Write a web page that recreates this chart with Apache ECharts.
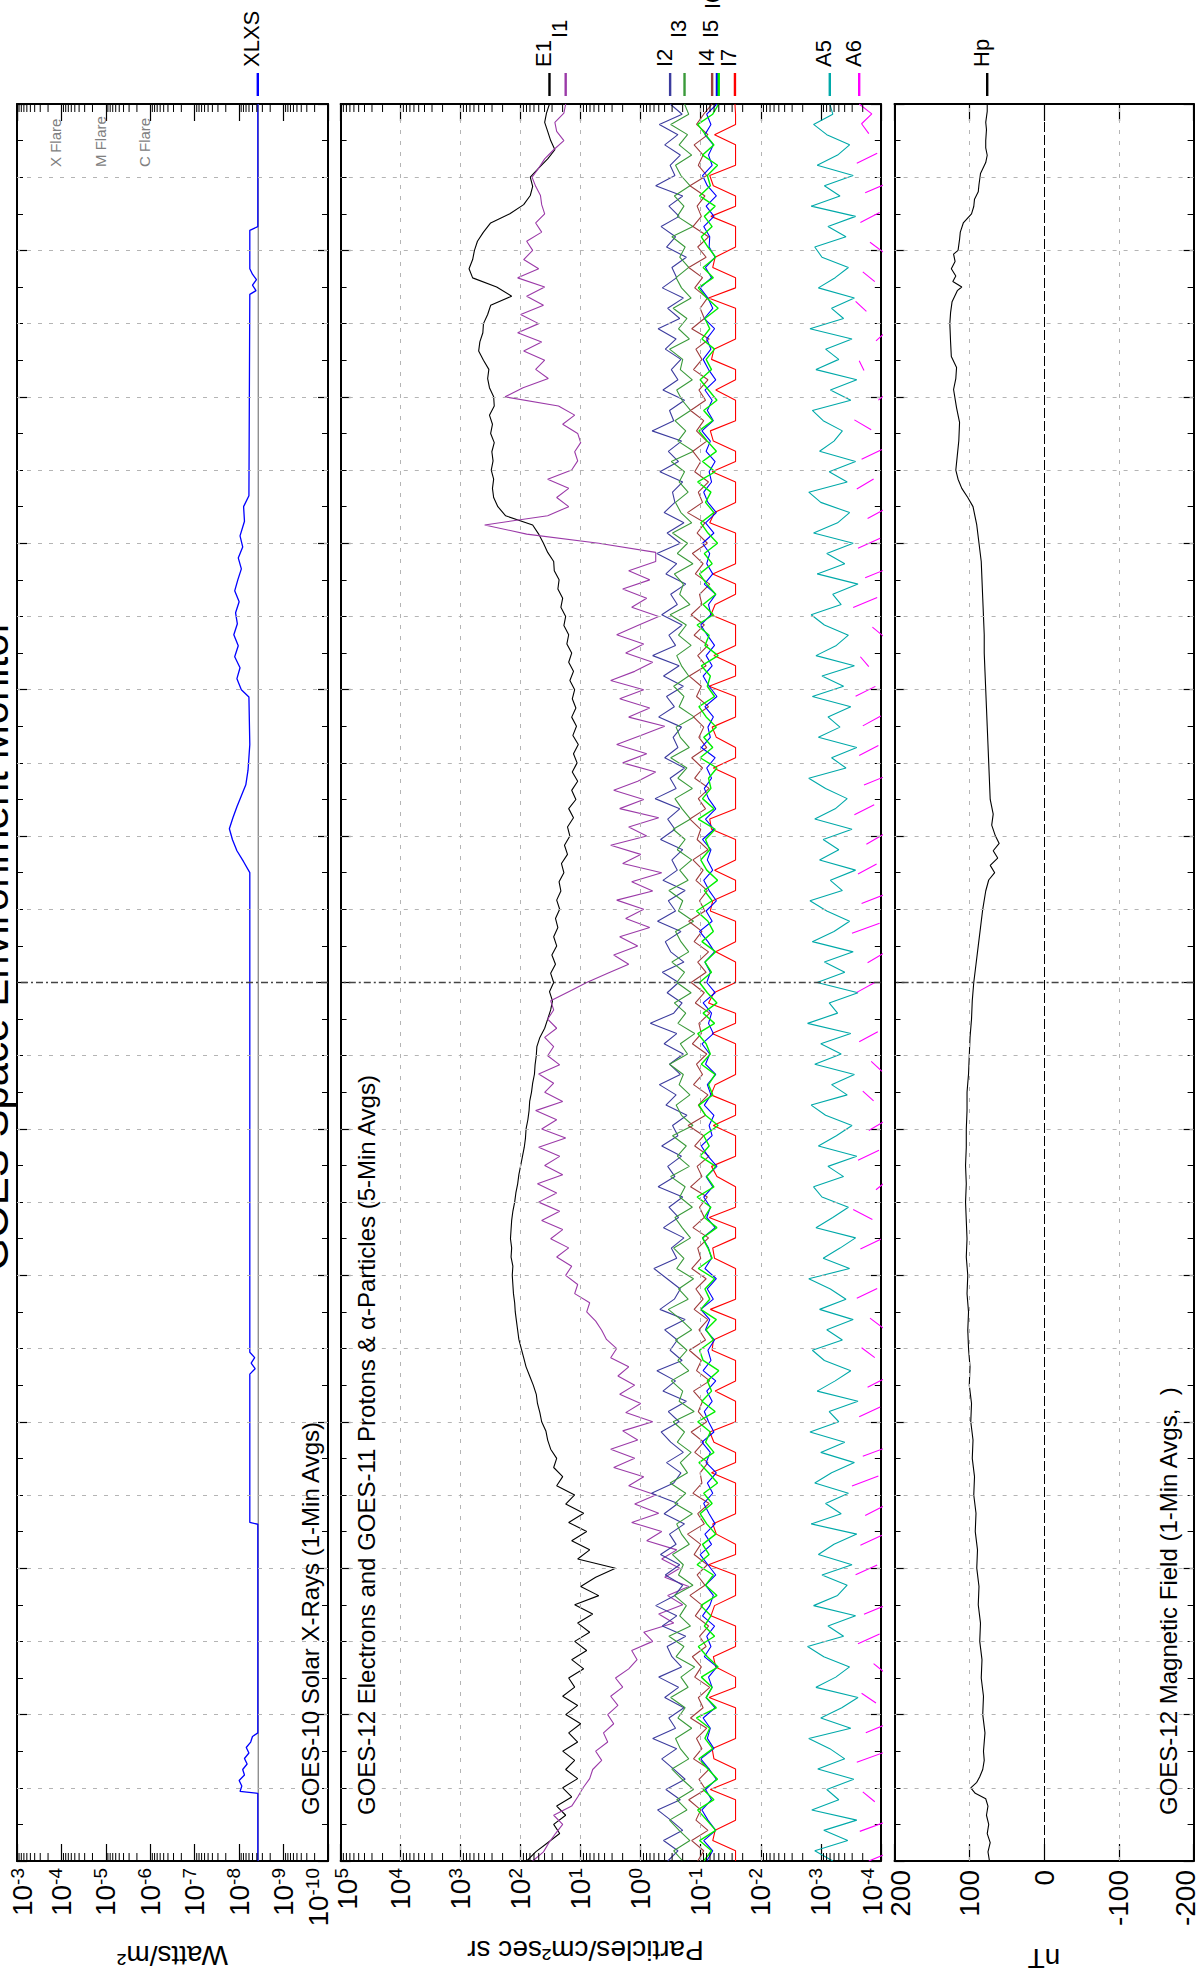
<!DOCTYPE html>
<html><head><meta charset="utf-8">
<script src="https://cdn.jsdelivr.net/npm/echarts@6/dist/echarts.min.js"></script>
<style>html,body{margin:0;padding:0;background:#fff}#c{width:1204px;height:1976px}</style>
</head><body><div id="c"></div>
<script>
// ---------------- DATA ----------------
const T_END = 48; // hours shown (two days)
const xrayTickExp = [-3,-4,-5,-6,-7,-8,-9,-10];
const partTickExp = [5,4,3,2,1,0,-1,-2,-3,-4];
const hpTicks = [200,100,0,-100,-200];
const flareLevels = [{exp:-4,name:'X Flare'},{exp:-5,name:'M Flare'},{exp:-6,name:'C Flare'}];

// GOES-10 X-rays: [hour, log10(W/m2)]
const xlPoints = [[0,-8.42],[1.85,-8.42],[1.9,-8.02],[2.05,-8.06],[2.2,-8.0],[2.35,-8.12],[2.5,-8.08],[2.65,-8.18],[2.8,-8.12],[2.95,-8.22],[3.1,-8.16],[3.25,-8.26],[3.4,-8.3],[3.5,-8.42],[9.2,-8.42],[9.25,-8.24],[13.3,-8.24],[13.45,-8.36],[13.6,-8.27],[13.75,-8.35],[13.9,-8.24],[27.0,-8.24],[27.3,-8.1],[27.6,-7.95],[27.9,-7.85],[28.2,-7.78],[28.5,-7.86],[28.8,-7.95],[29.1,-8.05],[29.4,-8.15],[29.8,-8.2],[30.5,-8.24],[31.8,-8.22],[32.0,-8.05],[32.3,-7.95],[32.6,-8.02],[32.9,-7.9],[33.2,-7.98],[33.5,-7.88],[33.8,-7.96],[34.1,-7.92],[34.4,-8.0],[34.7,-7.9],[35.0,-7.97],[35.3,-8.05],[35.6,-7.98],[35.9,-8.08],[36.2,-8.02],[36.6,-8.12],[37.0,-8.1],[37.3,-8.22],[42.8,-8.24],[42.9,-8.38],[43.05,-8.3],[43.2,-8.39],[43.35,-8.3],[43.5,-8.24],[44.55,-8.24],[44.65,-8.42],[48,-8.42]];
const xsPoints = [[0,-8.43],[48,-8.43]];

// GOES-12 electrons / GOES-11 protons, log10 values, evenly spaced over the 48 h (null = no valid value)
const e1Log = [
1.90,1.75,1.55,1.35,1.45,1.25,1.40,1.15, 1.30,1.05,1.25,1.10,1.30,1.05,1.20,1.00,
1.25,1.05,1.30,1.10,1.20,0.95,1.15,0.90, 1.10,0.85,1.05,0.80,1.10,0.70,1.00,0.75,
0.42,1.05,0.85,1.15,0.90,1.20,0.95,1.25, 1.10,1.40,1.30,1.45,1.40,1.50,1.55,1.58,
1.65,1.68,1.72,1.74,1.79,1.85,1.91,1.95, 1.99,2.03,2.05,2.07,2.09,2.10,2.12,2.13,
2.14,2.13,2.16,2.15,2.17,2.16,2.15,2.13, 2.10,2.08,2.05,2.03,2.00,1.97,1.94,1.92,
1.91,1.88,1.86,1.85,1.82,1.80,1.77,1.76, 1.74,1.73,1.68,1.60,1.55,1.50,1.47,1.52,
1.45,1.50,1.42,1.48,1.40,1.45,1.38,1.42, 1.35,1.40,1.33,1.36,1.28,1.32,1.22,1.27,
1.18,1.22,1.12,1.20,1.08,1.15,1.05,1.14, 1.06,1.12,1.04,1.13,1.07,1.15,1.08,1.14,
1.10,1.18,1.12,1.20,1.15,1.23,1.20,1.28, 1.25,1.33,1.30,1.38,1.36,1.44,1.45,1.55,
1.62,1.70,1.80,2.25,2.38,2.45,2.47,2.45, 2.49,2.46,2.48,2.44,2.50,2.47,2.52,2.44,
2.45,2.52,2.55,2.53,2.62,2.70,2.68,2.63, 2.62,2.55,2.50,2.15,2.40,2.80,2.86,2.80,
2.77,2.72,2.62,2.50,2.18,1.95,1.84,1.80, 1.84,1.70,1.55,1.43,1.50,1.55,1.60,1.57,
1.52];
const i1Log = [
1.80,1.62,1.53,1.42,1.30,1.45,1.15,1.05, 0.96,0.85,0.80,0.65,0.75,0.55,0.62,0.45,
0.55,0.38,0.50,0.30,0.42,0.20,0.06,0.15, -0.20,-0.05,-0.55,-0.30,-0.70,-0.45,-0.80,-0.40,
-0.65,-0.35,-0.60,-0.10,-0.35,0.15,-0.30,0.10, -0.25,0.20,-0.05,0.45,0.10,0.50,0.05,0.30,
-0.20,0.25,0.00,0.35,0.10,0.38,0.20,0.50, 0.40,0.57,0.65,0.75,0.90,0.85,1.10,1.05,
1.25,1.15,1.40,1.20,1.50,1.30,1.65,1.35, 1.70,1.40,1.72,1.30,1.60,1.35,1.70,1.25,
1.65,1.40,1.75,1.30,1.60,1.45,1.70,1.35, 1.55,1.45,1.60,1.40,1.55,1.45,1.50,1.20,
0.90,0.55,0.20,0.45,0.05,0.35,-0.15,0.25, -0.05,0.40,-0.20,0.15,-0.35,0.30,0.00,0.50,
-0.10,0.20,-0.30,0.35,-0.05,0.45,0.05,-0.25, 0.30,-0.10,0.40,0.00,-0.40,0.20,-0.15,0.35,
-0.05,0.50,0.10,-0.20,0.25,-0.05,0.40,0.05, -0.30,0.15,-0.10,0.30,-0.15,0.20,-0.25,-0.25,
0.70,1.90,2.60,1.55,1.20,1.40,1.20,1.55, 1.15,1.05,1.10,1.00,1.05,1.30,1.10,1.37,
2.26,1.96,1.54,1.75,1.60,1.95,1.65,2.05, 1.70,2.00,1.62,1.90,1.60,2.05,1.70,1.95,
1.80,1.90,1.65,1.75,1.60,1.65,1.67,1.75, 1.81,1.70,1.60,1.45,1.28,1.40,1.43,1.28,
1.25];
const i2Log = [
-0.45,-0.62,-0.38,-0.70,-0.50,-0.28,-0.66,-0.42,-0.74,-0.55,-0.35,-0.60,-0.20,-0.58,-0.47,-0.72,-0.40,-0.63,-0.30,-0.68,
-0.52,-0.44,-0.75,-0.36,-0.60,-0.25,-0.57,-0.70,-0.41,-0.65,-0.33,-0.59,-0.48,-0.73,-0.39,-0.62,-0.18,-0.55,-0.67,-0.43,
-0.71,-0.50,-0.34,-0.64,-0.46,-0.76,-0.37,-0.58,-0.27,-0.69,-0.49,-0.61,-0.40,-0.74,-0.32,-0.56,-0.66,-0.44,-0.22,-0.60,
-0.51,-0.72,-0.38,-0.63,-0.47,-0.70,-0.29,-0.57,-0.45,-0.68,-0.35,-0.62,-0.53,-0.77,-0.42,-0.59,-0.31,-0.66,-0.48,-0.71,
-0.39,-0.60,-0.16,-0.55,-0.69,-0.44,-0.63,-0.36,-0.72,-0.50,-0.41,-0.67,-0.28,-0.58,-0.46,-0.74,-0.37,-0.61,-0.52,-0.70,
-0.33,-0.57,-0.45,-0.65,-0.24,-0.59,-0.49,-0.73,-0.40,-0.62,-0.54,-0.68,-0.30,-0.56,-0.43,-0.71,-0.38,-0.64,-0.20,-0.58,
-0.47,-0.69,-0.35,-0.61,-0.50,-0.75,-0.42,-0.60,-0.27,-0.66,-0.44,-0.72,-0.39,-0.57,-0.53,-0.70,-0.32,-0.63,-0.46,-0.68,
-0.19,-0.55,-0.48,-0.73,-0.37,-0.62,-0.51,-0.67,-0.41,-0.59,-0.29,-0.65,-0.45,-0.71,-0.36,-0.60,-0.52,-0.76,-0.43,-0.58,
-0.34,-0.64,-0.47,-0.70,-0.25,-0.57,-0.49,-0.66,-0.40,-0.62,-0.31,-0.69,-0.49];
const i3Log = [
-0.70,-0.55,-0.82,-0.64,-0.48,-0.77,-0.60,-0.88,-0.69,-0.52,-0.80,-0.66,-0.58,-0.85,-0.62,-0.74,-0.50,-0.79,-0.67,-0.90,
-0.59,-0.72,-0.47,-0.83,-0.65,-0.76,-0.56,-0.87,-0.63,-0.71,-0.53,-0.81,-0.68,-0.60,-0.86,-0.57,-0.75,-0.49,-0.78,-0.66,
-0.84,-0.61,-0.73,-0.54,-0.89,-0.64,-0.70,-0.51,-0.80,-0.62,-0.77,-0.58,-0.85,-0.67,-0.46,-0.79,-0.63,-0.88,-0.60,-0.72,
-0.55,-0.83,-0.69,-0.57,-0.86,-0.65,-0.74,-0.50,-0.81,-0.61,-0.76,-0.53,-0.87,-0.68,-0.59,-0.82,-0.64,-0.71,-0.48,-0.78,
-0.66,-0.90,-0.62,-0.75,-0.56,-0.84,-0.60,-0.73,-0.52,-0.80,-0.67,-0.58,-0.88,-0.63,-0.70,-0.47,-0.79,-0.65,-0.85,-0.61,
-0.74,-0.54,-0.83,-0.69,-0.57,-0.86,-0.62,-0.77,-0.50,-0.81,-0.66,-0.59,-0.89,-0.64,-0.72,-0.55,-0.80,-0.68,-0.60,-0.84,
-0.63,-0.76,-0.49,-0.82,-0.65,-0.71,-0.56,-0.87,-0.61,-0.78,-0.53,-0.85,-0.67,-0.58,-0.79,-0.64,-0.73,-0.51,-0.88,-0.62,
-0.75,-0.57,-0.83,-0.69,-0.60,-0.86,-0.66,-0.70,-0.48,-0.81,-0.63,-0.77,-0.54,-0.84,-0.68,-0.59,-0.80,-0.65,-0.74,-0.52,
-0.87,-0.61,-0.72,-0.56,-0.82,-0.67,-0.58,-0.85,-0.64,-0.78,-0.50,-0.80,-0.73];
const i4Log = [
-0.95,-1.05,-0.85,-1.12,-0.92,-1.00,-0.80,-1.08,-0.97,-1.14,-0.88,-1.02,-0.93,-1.10,-0.83,-1.04,-0.96,-1.15,-0.90,-1.01,
-0.86,-1.09,-0.98,-1.13,-0.91,-1.03,-0.82,-1.07,-0.94,-1.11,-0.89,-1.00,-0.78,-1.06,-0.95,-1.14,-0.87,-1.02,-0.99,-1.12,
-0.90,-1.05,-0.84,-1.10,-0.96,-1.03,-0.88,-1.15,-0.93,-1.01,-0.81,-1.08,-0.97,-1.12,-0.89,-1.04,-0.92,-1.09,-0.85,-1.00,
-0.95,-1.13,-0.87,-1.06,-0.98,-1.11,-0.83,-1.02,-0.94,-1.14,-0.90,-1.05,-0.79,-1.08,-0.96,-1.12,-0.88,-1.03,-0.93,-1.10,
-0.86,-1.01,-0.97,-1.15,-0.91,-1.06,-0.84,-1.09,-0.95,-1.13,-0.89,-1.02,-0.80,-1.07,-0.98,-1.11,-0.92,-1.04,-0.87,-1.12,
-0.94,-1.00,-0.82,-1.08,-0.96,-1.14,-0.90,-1.03,-0.85,-1.10,-0.97,-1.05,-0.88,-1.13,-0.93,-1.01,-0.81,-1.09,-0.95,-1.12,
-0.89,-1.06,-0.84,-1.02,-0.98,-1.15,-0.91,-1.04,-0.86,-1.11,-0.94,-1.07,-0.78,-1.03,-0.96,-1.13,-0.90,-1.00,-0.87,-1.10,
-0.93,-1.05,-0.83,-1.08,-0.97,-1.12,-0.88,-1.02,-0.92,-1.14,-0.85,-1.06,-0.99,-1.11,-0.90,-1.03,-0.80,-1.09,-0.95,-1.13,
-0.87,-1.01,-0.94,-1.07,-0.82,-1.10,-0.96,-1.04,-0.89,-1.12,-0.93,-1.05,-1.19];
const i5Log = [
-1.10,-1.20,-1.05,-1.25,-1.12,-1.02,-1.18,-1.08,-1.26,-1.14,-1.00,-1.22,-1.11,-1.16,-1.04,-1.24,-1.09,-1.19,-1.13,-1.27,
-1.06,-1.17,-1.10,-1.23,-1.03,-1.15,-1.21,-1.08,-1.25,-1.12,-0.99,-1.18,-1.07,-1.24,-1.14,-1.05,-1.20,-1.11,-1.26,-1.09,
-1.16,-1.02,-1.22,-1.13,-1.06,-1.19,-1.10,-1.25,-1.04,-1.17,-1.12,-1.23,-1.08,-1.15,-1.00,-1.21,-1.11,-1.26,-1.07,-1.18,
-1.13,-1.03,-1.24,-1.10,-1.16,-1.05,-1.20,-1.09,-1.27,-1.12,-1.01,-1.19,-1.14,-1.22,-1.06,-1.17,-1.11,-1.25,-1.08,-1.15,
-1.02,-1.21,-1.13,-1.18,-1.04,-1.24,-1.10,-1.16,-1.07,-1.23,-1.12,-0.98,-1.19,-1.09,-1.26,-1.14,-1.05,-1.20,-1.11,-1.17,
-1.03,-1.22,-1.08,-1.25,-1.13,-1.06,-1.18,-1.10,-1.24,-1.01,-1.16,-1.12,-1.21,-1.07,-1.27,-1.14,-1.04,-1.19,-1.09,-1.23,
-1.11,-1.00,-1.17,-1.13,-1.25,-1.06,-1.20,-1.10,-1.15,-1.03,-1.22,-1.08,-1.26,-1.12,-1.05,-1.18,-1.14,-1.24,-1.09,-1.16,
-1.02,-1.21,-1.11,-1.19,-1.07,-1.25,-1.13,-1.04,-1.17,-1.10,-1.23,-1.06,-1.20,-1.12,-0.99,-1.18,-1.08,-1.24,-1.14,-1.15,
-1.05,-1.22,-1.09,-1.26,-1.11,-1.03,-1.19,-1.13,-1.21,-1.07,-1.17,-1.10,-1.27];
const i6Log = [
-1.05,-1.18,-0.98,-1.25,-1.10,-0.95,-1.22,-1.04,-1.28,-1.12,-0.97,-1.20,-1.07,-1.15,-0.93,-1.26,-1.09,-1.19,-1.01,-1.29,
-1.11,-0.96,-1.23,-1.06,-1.17,-1.00,-1.27,-1.08,-1.21,-0.94,-1.14,-1.03,-1.25,-1.10,-0.99,-1.19,-1.05,-1.28,-1.13,-0.97,
-1.22,-1.08,-1.16,-0.95,-1.24,-1.02,-1.18,-1.11,-1.30,-1.04,-0.98,-1.21,-1.09,-1.26,-1.00,-1.15,-1.07,-1.23,-0.96,-1.19,
-1.12,-1.03,-1.27,-1.06,-1.17,-0.94,-1.22,-1.10,-1.25,-0.99,-1.14,-1.05,-1.29,-1.08,-0.97,-1.20,-1.13,-1.24,-1.01,-1.16,
-1.09,-0.95,-1.23,-1.04,-1.27,-1.11,-0.98,-1.18,-1.07,-1.25,-1.02,-1.21,-1.12,-0.93,-1.19,-1.06,-1.28,-1.10,-1.00,-1.15,
-1.08,-1.24,-0.96,-1.22,-1.03,-1.17,-1.13,-1.27,-0.99,-1.20,-1.05,-1.26,-1.09,-0.97,-1.23,-1.11,-1.16,-1.01,-1.29,-1.07,
-1.14,-0.94,-1.21,-1.04,-1.25,-1.10,-0.98,-1.19,-1.06,-1.28,-1.12,-1.00,-1.22,-1.08,-1.17,-0.95,-1.24,-1.03,-1.26,-1.11,
-0.97,-1.20,-1.05,-1.27,-1.13,-0.99,-1.18,-1.09,-1.23,-1.02,-1.15,-1.07,-1.29,-1.10,-0.96,-1.21,-1.04,-1.25,-1.12,-1.01,
-1.19,-1.06,-1.24,-0.98,-1.16,-1.11,-1.28,-1.03,-1.22,-1.08,-0.95,-1.20,-1.30];
const i7Log = [
-1.58,-1.58,-1.20,-1.24,-1.58,-1.58,-1.58,-1.16,-1.58,-1.58,-1.22,-1.19,-1.58,-1.58,-1.58,-1.58,-1.14,-1.58,-1.58,-1.25,
-1.21,-1.58,-1.58,-1.58,-1.17,-1.23,-1.58,-1.58,-1.58,-1.13,-1.58,-1.58,-1.26,-1.20,-1.58,-1.58,-1.58,-1.58,-1.18,-1.58,
-1.58,-1.22,-1.15,-1.58,-1.58,-1.58,-1.24,-1.58,-1.58,-1.58,-1.19,-1.21,-1.58,-1.58,-1.16,-1.58,-1.58,-1.58,-1.58,-1.23,
-1.20,-1.58,-1.58,-1.14,-1.58,-1.58,-1.58,-1.27,-1.18,-1.58,-1.58,-1.58,-1.21,-1.58,-1.58,-1.17,-1.24,-1.58,-1.58,-1.58,
-1.58,-1.19,-1.58,-1.58,-1.13,-1.22,-1.58,-1.58,-1.58,-1.25,-1.58,-1.58,-1.58,-1.16,-1.20,-1.58,-1.58,-1.23,-1.58,-1.58,
-1.58,-1.18,-1.15,-1.58,-1.58,-1.58,-1.58,-1.21,-1.58,-1.58,-1.26,-1.19,-1.58,-1.58,-1.58,-1.14,-1.58,-1.58,-1.22,-1.58,
-1.58,-1.58,-1.17,-1.24,-1.58,-1.58,-1.20,-1.58,-1.58,-1.58,-1.58,-1.15,-1.23,-1.58,-1.58,-1.58,-1.19,-1.58,-1.58,-1.21,
-1.16,-1.58,-1.58,-1.58,-1.25,-1.58,-1.58,-1.18,-1.22,-1.58,-1.58,-1.58,-1.58,-1.13,-1.58,-1.58,-1.20,-1.24,-1.58,-1.58,
-1.58,-1.17,-1.58,-1.58,-1.21,-1.15,-1.58,-1.58,-1.58,-1.23,-1.58,-1.58,-1.57];
const a5Log = [
-3.20,-2.90,-3.45,-3.05,-3.60,-2.85,-3.30,-3.10,-3.55,-2.95,-3.40,-3.15,-2.80,-3.50,-3.00,-3.35,-3.62,-2.92,-3.25,-3.48,
-3.05,-2.78,-3.38,-3.12,-3.58,-2.88,-3.28,-3.44,-3.02,-3.52,-2.96,-3.22,-3.60,-2.84,-3.34,-3.08,-3.46,-2.90,-3.18,-3.56,
-3.00,-3.40,-2.82,-3.30,-3.14,-3.62,-2.94,-3.24,-3.50,-3.06,-2.86,-3.36,-3.10,-3.54,-2.98,-3.42,-3.16,-2.80,-3.48,-3.04,
-3.32,-3.58,-2.92,-3.20,-3.46,-3.02,-2.88,-3.38,-3.12,-3.60,-2.96,-3.26,-3.52,-3.08,-2.84,-3.44,-3.18,-3.56,-2.90,-3.34,
-3.00,-3.50,-2.78,-3.28,-3.14,-3.62,-2.94,-3.40,-3.06,-3.54,-2.86,-3.22,-3.48,-3.10,-2.82,-3.36,-3.16,-3.58,-2.98,-3.30,
-3.04,-3.52,-2.90,-3.24,-3.44,-3.08,-2.80,-3.42,-3.18,-3.60,-2.96,-3.32,-3.12,-3.50,-2.86,-3.38,-3.02,-3.56,-2.92,-3.26,
-3.46,-3.06,-2.84,-3.34,-3.20,-3.62,-2.94,-3.40,-3.10,-3.54,-2.88,-3.28,-3.48,-3.00,-2.80,-3.44,-3.14,-3.58,-2.98,-3.22,
-3.36,-3.04,-2.86,-3.50,-3.16,-3.60,-2.92,-3.30,-3.08,-3.52,-2.82,-3.38,-3.18,-3.56,-2.96,-3.24,-3.46,-3.02,-2.90,-3.42,
-3.12,-3.58,-2.84,-3.32,-3.06,-3.54,-2.94,-3.28,-3.48,-3.10,-2.88,-3.20,-3.15];
const a6Log = [
-3.80,-4.20,null,-3.65,-4.10,null,-3.90,-3.70,null,null,-3.60,-4.05,null,-3.75,-4.15,null,-3.92,-3.68,null,-4.08,
-3.88,null,-3.62,-3.98,null,-3.72,-4.12,null,null,-3.58,-3.94,null,-3.66,-4.02,null,-3.74,-4.06,null,-3.52,-3.96,
null,-3.70,-4.14,null,null,-3.64,-3.99,null,-3.78,-4.10,null,-3.90,-3.68,null,-4.04,-3.82,null,-3.60,-3.94,null,
-3.76,null,-3.66,-4.00,null,-3.86,-3.54,null,-3.92,-4.12,null,-3.62,-3.97,null,-3.80,-4.08,null,-3.88,-3.70,null,
-4.02,-3.84,null,-3.64,-3.95,null,-3.74,null,-3.60,-3.90,null,-3.78,-4.06,null,-3.52,-3.98,null,-3.68,-4.10,null,
-3.62,-3.93,null,-3.76,-4.04,null,-3.56,-3.89,null,-3.72,-4.12,null,-3.64,-3.96,null,-3.70,-4.00,null,-3.58,-3.91,
null,-3.80,-3.66,null,-4.06,-3.86,null,-3.54,-3.94,null,-3.74,-4.14,null,-3.62,-3.99,null,-3.78,-4.08,null,-3.60,
-3.88,null,-3.68,-4.02,null,-3.84,-3.56,null,-3.96,-4.16,null,-3.72,-3.64,null,-3.92,-4.10,null,-3.76,-3.58,null,
-3.90,-3.70,null,-4.04,-3.82,null,-3.66,-3.98,null,-3.74,-4.12,null,-3.60,-3.94,null,-3.80,-3.68,-3.85,-3.64];

// GOES-12 Hp magnetic field: [hour, nT]
const hpPoints = [[0,73],[0.25,75],[0.5,72],[0.75,76],[1,74],[1.25,77],[1.5,75],[1.7,78],[1.85,92],[2.0,98],[2.15,90],[2.3,86],[2.5,82],[2.75,80],[3,81],[3.5,79],[4,82],[4.5,81],[5,84],[5.5,83],[6,86],[6.5,85],[7,88],[7.5,87],[8,90],[8.5,89],[9,92],[9.5,91],[10,94],[10.5,93],[11,96],[11.5,95],[12,98],[12.5,97],[13,100],[13.5,99],[14,101],[14.5,102],[15,101],[15.5,103],[16,102],[16.5,104],[17,103],[17.5,104],[18,105],[18.5,104],[19,105],[19.5,104],[20,104],[20.5,103],[21,103],[21.5,101],[22,100],[22.5,99],[23,97],[23.5,96],[24,94],[24.5,91],[25,88],[25.5,85],[26,82],[26.5,78],[26.8,74],[27.0,66],[27.2,72],[27.4,62],[27.6,68],[27.8,60],[28.0,65],[28.3,70],[28.6,68],[29,72],[29.5,73],[30,74],[30.5,75],[31,76],[31.5,77],[32,78],[32.5,79],[33,80],[33.5,80],[34,81],[34.5,82],[35,83],[35.5,84],[36,87],[36.5,90],[37,95],[37.25,102],[37.5,110],[37.75,115],[38,118],[38.4,116],[38.8,114],[39.3,113],[39.7,117],[40.2,121],[40.5,118],[40.8,117],[41.1,124],[41.5,125],[42,126],[42.3,125],[42.6,123],[42.9,116],[43.0,110],[43.15,122],[43.3,118],[43.5,124],[43.7,119],[43.9,121],[44.0,115],[44.3,113],[44.5,112],[44.75,108],[45.0,97],[45.2,94],[45.4,93],[45.6,88],[45.8,87],[46.1,85],[46.4,78],[46.6,76],[46.8,78],[47.0,78],[47.3,77],[47.5,78],[47.8,76],[48,76]];

// ---------------- BUILD ----------------
const FONT = '"Liberation Sans", Arial, Helvetica, sans-serif';
function fromLogUniform(arr){ const step = T_END/(arr.length-1); return arr.map((v,i)=>[v==null ? '-' : Math.pow(10,v), +(i*step).toFixed(4)]); }
function fromLogPairs(arr){ return arr.map(p=>[Math.pow(10,p[1]), p[0]]); }
function fromPairs(arr){ return arr.map(p=>[p[1], p[0]]); }

const shiftStyles = {};
[11,12,13,16,20].forEach(h=>{ shiftStyles['g'+h] = {fontSize:1, lineHeight:h, height:h}; });
const labelRich = Object.assign({
  b:{fontSize:28, lineHeight:30, fontFamily:FONT, color:'#000'},
  s:{fontSize:19, lineHeight:22, verticalAlign:'top', fontFamily:FONT, color:'#000'},
  n:{fontSize:28, lineHeight:30, fontFamily:FONT, color:'#000'}
}, shiftStyles);
function withShift(txt, before, after){
  let t = txt;
  if (before) t = '{g'+before+'| }\n' + t;
  if (after) t = t + '\n{g'+after+'| }';
  return t;
}
function powFormatter(minExp, maxExp, beforeMax, afterMin){
  return function(v){
    const e = Math.round(Math.log10(v));
    const t = '{b|10}{s|'+e+'}';
    if (e === maxExp) return withShift(t, beforeMax, 0);
    if (e === minExp) return withShift(t, 0, afterMin);
    return t;
  };
}

const axisLine = {show:true, onZero:false, lineStyle:{color:'#000', width:2}};
function valueXAxis(gridIndex, pos, base){
  return Object.assign({
    gridIndex, position:pos,
    axisLine, splitLine:{show:false},
    axisTick:{show:true, inside:true, length:17, lineStyle:{color:'#000', width:1.2}},
    axisLabel:{show:false}
  }, base);
}
const xLogX = {type:'log', logBase:10, min:1e-10, max:1e-3, inverse:true};
const xLogP = {type:'log', logBase:10, min:1e-4, max:1e5, inverse:true};
const xHp = {type:'value', min:-200, max:200, interval:100, inverse:true};

const xAxes = [
  valueXAxis(0,'bottom', Object.assign({}, xLogX, {axisLabel:{show:true, rotate:90, margin:7, interval:0, showMinLabel:true, showMaxLabel:true, formatter: powFormatter(-10,-3,11,20), rich: labelRich}})),
  valueXAxis(0,'top', xLogX),
  valueXAxis(1,'bottom', Object.assign({}, xLogP, {axisLabel:{show:true, rotate:90, margin:7, interval:0, showMinLabel:true, showMaxLabel:true, formatter: powFormatter(-4,5,13,16), rich: labelRich}})),
  valueXAxis(1,'top', xLogP),
  valueXAxis(2,'bottom', Object.assign({}, xHp, {axisLabel:{show:true, rotate:90, margin:9, interval:0, showMinLabel:true, showMaxLabel:true, rich: labelRich,
     formatter: v => v===200 ? withShift('{n|200}',12,0) : (v===-200 ? withShift('{n|-200}',0,16) : '{n|'+v+'}')}})),
  valueXAxis(2,'top', xHp)
];
function timeYAxis(gridIndex, pos){
  return {type:'value', gridIndex, position:pos, min:0, max:T_END, interval:4,
    axisLine, splitLine:{show:false}, axisLabel:{show:false},
    axisTick:{show:true, inside:true, length:10, lineStyle:{color:'#000', width:1.2}},
    minorTick:{show:true, splitNumber:4, length:6, lineStyle:{color:'#000', width:1}}};
}
const yAxes = [timeYAxis(0,'left'), timeYAxis(0,'right'), timeYAxis(1,'left'), timeYAxis(1,'right'), timeYAxis(2,'left'), timeYAxis(2,'right')];

const grayDash = {color:'#b4b4b4', width:1, type:[4,7]};
const blackDot = {color:'#000', width:1.4, type:[3,4]};
const blackDash = {color:'#000', width:1, type:[10,3]};
const dayLine = {color:'#444', width:1.4, type:[7,3,2,3]};
const timeGridLines = [];
for (let h=2; h<T_END; h+=2) timeGridLines.push({yAxis:h, lineStyle: h===24 ? dayLine : grayDash});
function gridSeries(xi, yi, vLines){
  return {type:'line', xAxisIndex:xi, yAxisIndex:yi, data:[], silent:true, z:1, animation:false,
    markLine:{silent:true, animation:false, symbol:['none','none'], label:{show:false}, emphasis:{disabled:true},
      data: vLines.concat(timeGridLines)}};
}
const xrayV = [];
flareLevels.forEach(f=>xrayV.push({xAxis:Math.pow(10,f.exp), lineStyle:blackDot}));
[-7,-8,-9].forEach(e=>xrayV.push({xAxis:Math.pow(10,e), lineStyle:grayDash}));
const partV = [];
partTickExp.slice(1,-1).forEach(e=>partV.push({xAxis:Math.pow(10,e), lineStyle:grayDash}));
const hpV = [{xAxis:100, lineStyle:grayDash},{xAxis:-100, lineStyle:grayDash},{xAxis:0, lineStyle:blackDash}];

function minorTickSeries(xi, yi, lo, hi){
  const d = [];
  for (let n=lo; n<hi; n++) for (let k=2; k<=9; k++) d.push([k*Math.pow(10,n), 0]);
  return {type:'custom', xAxisIndex:xi, yAxisIndex:yi, data:d, silent:true, z:6, animation:false,
    renderItem(params, api){
      const v = api.value(0);
      const b = api.coord([v,0]), t = api.coord([v,T_END]);
      return {type:'group', children:[
        {type:'line', shape:{x1:b[0],y1:b[1],x2:b[0],y2:b[1]-8}, style:{stroke:'#000', lineWidth:1}},
        {type:'line', shape:{x1:t[0],y1:t[1],x2:t[0],y2:t[1]+8}, style:{stroke:'#000', lineWidth:1}}]};
    }};
}
function lineSeries(name, xi, yi, data, color, width){
  return {name, type:'line', xAxisIndex:xi, yAxisIndex:yi, data, showSymbol:false, symbol:'none', silent:true,
    connectNulls:false, animation:false, clip:true, z:3, lineStyle:{color, width: width||1.1}, itemStyle:{color}};
}
const seriesDefs = [
  {name:'XS', xi:0, yi:0, data:fromLogPairs(xsPoints), color:'#7c7c7c', width:1.2},
  {name:'XL', xi:0, yi:0, data:fromLogPairs(xlPoints), color:'#0000ff', width:1.3},
  {name:'E1', xi:2, yi:2, data:fromLogUniform(e1Log), color:'#000000'},
  {name:'I1', xi:2, yi:2, data:fromLogUniform(i1Log), color:'#9b3aa8'},
  {name:'A5', xi:2, yi:2, data:fromLogUniform(a5Log), color:'#00a9a9'},
  {name:'A6', xi:2, yi:2, data:fromLogUniform(a6Log), color:'#ff00ff'},
  {name:'I2', xi:2, yi:2, data:fromLogUniform(i2Log), color:'#3c3c9e'},
  {name:'I3', xi:2, yi:2, data:fromLogUniform(i3Log), color:'#3a9a3a'},
  {name:'I4', xi:2, yi:2, data:fromLogUniform(i4Log), color:'#9e3c3c'},
  {name:'I7', xi:2, yi:2, data:fromLogUniform(i7Log), color:'#ff0000'},
  {name:'I5', xi:2, yi:2, data:fromLogUniform(i5Log), color:'#0000ff'},
  {name:'I6', xi:2, yi:2, data:fromLogUniform(i6Log), color:'#00f000', width:1.4},
  {name:'Hp', xi:4, yi:4, data:fromPairs(hpPoints), color:'#000000'}
];
const series = [
  gridSeries(0,0,xrayV), gridSeries(2,2,partV), gridSeries(4,4,hpV),
  minorTickSeries(0,0,-10,-3), minorTickSeries(2,2,-4,5),
  ...seriesDefs.map(s=>lineSeries(s.name, s.xi, s.yi, s.data, s.color, s.width))
];

const option = {
  animation:false,
  backgroundColor:'#ffffff',
  textStyle:{fontFamily:FONT},
  grid:[
    {left:17, top:104, width:311, height:1757, containLabel:false, outerBoundsMode:'none'},
    {left:340.6, top:104, width:540.2, height:1757, containLabel:false, outerBoundsMode:'none'},
    {left:894.5, top:104, width:299.1, height:1757, containLabel:false, outerBoundsMode:'none'}
  ],
  xAxis:xAxes, yAxis:yAxes, series
};

const chart = echarts.init(document.getElementById('c'), null, {renderer:'svg', width:1204, height:1976});
chart.setOption(option);

// ---------------- TEXT / LEGEND ----------------
const R90 = Math.PI/2;
function txt(text, x, y, rot, size, opts){
  const o = Object.assign({align:'left', valign:'middle', color:'#000', weight:'normal'}, opts||{});
  return {type:'text', x, y, rotation:rot, silent:true, z:50,
    style:{text, fill:o.color, fontSize:size, fontFamily:FONT, fontWeight:o.weight,
      textAlign:o.align, textVerticalAlign:o.valign, align:o.align, verticalAlign:o.valign}};
}
const g = [];
// main title (mostly outside the page on the left, as in the source image)
g.push(txt('GOES Space Environment Monitor', 14, 945, R90, 42, {align:'center', valign:'bottom'}));
// panel titles
g.push(txt('GOES-10 Solar X-Rays (1-Min Avgs)', 310, 1815, R90, 24));
g.push(txt('GOES-12 Electrons and GOES-11 Protons & \u03b1-Particles (5-Min Avgs)', 366.5, 1815, R90, 24));
g.push(txt('GOES-12 Magnetic Field (1-Min Avgs,  )', 1168, 1815, R90, 24));
// axis names (upside down)
g.push(txt('Watts/m\u00b2', 172.5, 1955, Math.PI, 28, {align:'center'}));
g.push(txt('Particles/cm\u00b2sec sr', 585.5, 1950, Math.PI, 28, {align:'center'}));
g.push(txt('nT', 1044, 1958, Math.PI, 28, {align:'center'}));
// flare level labels
flareLevels.forEach(f=>{
  const px = chart.convertToPixel({xAxisIndex:0, yAxisIndex:0}, [Math.pow(10,f.exp), T_END]);
  g.push(txt(f.name, px[0]+2, 167, R90, 15, {valign:'bottom', color:'#808080'}));
});
// legend: dash at the last value of each series, label above it
const rowY = [67, 38, 9];
const legendDefs = [['XL',0],['E1',0],['I1',1],['I2',0],['I3',1],['I4',0],['I5',1],['I6',2],['I7',0],['A5',0],['A6',0],['Hp',0]];
const measure = document.createElement('canvas').getContext('2d');
measure.font = '22px ' + FONT;
legendDefs.forEach(([name,row])=>{
  const s = seriesDefs.find(d=>d.name===name);
  const last = s.data[s.data.length-1];
  const px = chart.convertToPixel({xAxisIndex:s.xi, yAxisIndex:s.yi}, last)[0];
  g.push({type:'line', silent:true, z:50, shape:{x1:px, y1:73, x2:px, y2:96}, style:{stroke:s.color, lineWidth:2.4}});
  g.push(txt(name, px-6, rowY[row], R90, 22));
  if (name === 'XL') {
    const w = measure.measureText('XL').width;
    g.push(txt('XS', px-6, rowY[row]-w, R90, 22));
  }
});
chart.setOption({graphic:{elements:g}});
</script>
</body></html>
